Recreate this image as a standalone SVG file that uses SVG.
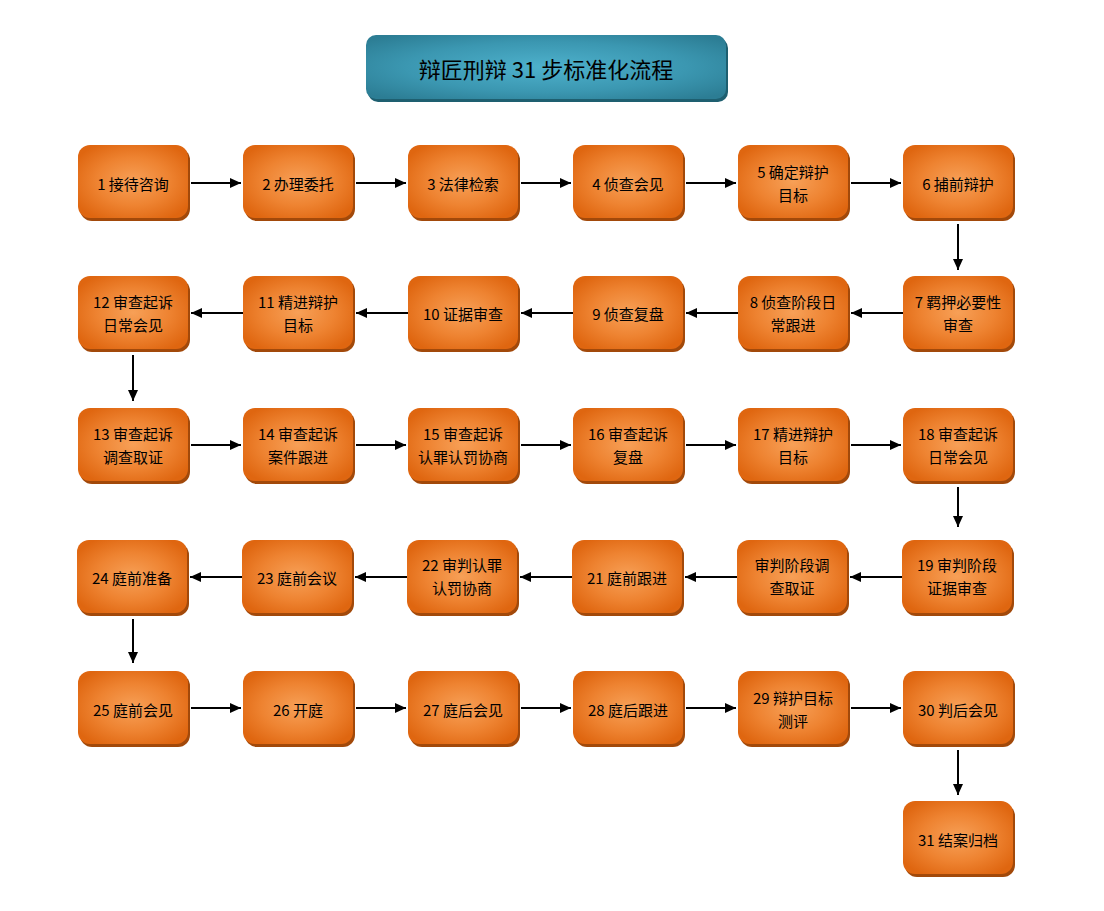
<svg xmlns="http://www.w3.org/2000/svg" width="1104" height="911" viewBox="0 0 1104 911">
<defs>
<radialGradient id="og" cx="50%" cy="50%" r="60%">
<stop offset="0" stop-color="#f7a057"/>
<stop offset="0.55" stop-color="#ee8331"/>
<stop offset="1" stop-color="#df6610"/>
</radialGradient>
<radialGradient id="tg" cx="50%" cy="50%" r="65%">
<stop offset="0" stop-color="#4eb1cc"/>
<stop offset="0.6" stop-color="#3b97b1"/>
<stop offset="1" stop-color="#2c7d94"/>
</radialGradient>
<marker id="ah" markerUnits="userSpaceOnUse" markerWidth="12" markerHeight="10" refX="11" refY="5" orient="auto">
<path d="M0,0 L11,5 L0,10 z" fill="#000"/>
</marker>
<symbol id="box" overflow="visible">
<rect x="2" y="3" width="110" height="73" rx="12" fill="#a2490a"/>
<rect x="0" y="0" width="110" height="73" rx="12" fill="url(#og)"/>
</symbol>
</defs>
<style>
text{font-family:"Noto Sans CJK SC","Liberation Sans",sans-serif;fill:#000;text-anchor:middle;dominant-baseline:central}
.n text{font-size:15px}
.t{font-size:22px}
.c line{stroke:#000;stroke-width:2;marker-end:url(#ah)}
</style>
<rect width="1104" height="911" fill="#fff"/>
<g id="title">
<rect x="368" y="38" width="360" height="64" rx="10" fill="#1e5f70"/>
<rect x="366" y="35" width="360" height="64" rx="10" fill="url(#tg)"/>
<text class="t" x="546" y="68">辩匠刑辩 31 步标准化流程</text>
</g>
<g class="c" id="connectors">
<line x1="191" y1="183" x2="241" y2="183"/>
<line x1="356" y1="183" x2="406" y2="183"/>
<line x1="521" y1="183" x2="571" y2="183"/>
<line x1="686" y1="183" x2="736" y2="183"/>
<line x1="851" y1="183" x2="901" y2="183"/>
<line x1="958" y1="224" x2="958" y2="270"/>
<line x1="903" y1="313" x2="851" y2="313"/>
<line x1="738" y1="313" x2="686" y2="313"/>
<line x1="573" y1="313" x2="521" y2="313"/>
<line x1="408" y1="313" x2="356" y2="313"/>
<line x1="243" y1="313" x2="191" y2="313"/>
<line x1="133" y1="355" x2="133" y2="401"/>
<line x1="191" y1="445" x2="241" y2="445"/>
<line x1="356" y1="445" x2="406" y2="445"/>
<line x1="521" y1="445" x2="571" y2="445"/>
<line x1="686" y1="445" x2="736" y2="445"/>
<line x1="851" y1="445" x2="901" y2="445"/>
<line x1="958" y1="487" x2="958" y2="527"/>
<line x1="902" y1="577" x2="850" y2="577"/>
<line x1="737" y1="577" x2="685" y2="577"/>
<line x1="572" y1="577" x2="520" y2="577"/>
<line x1="407" y1="577" x2="355" y2="577"/>
<line x1="242" y1="577" x2="190" y2="577"/>
<line x1="133" y1="619" x2="133" y2="663"/>
<line x1="191" y1="708" x2="241" y2="708"/>
<line x1="356" y1="708" x2="406" y2="708"/>
<line x1="521" y1="708" x2="571" y2="708"/>
<line x1="686" y1="708" x2="736" y2="708"/>
<line x1="851" y1="708" x2="901" y2="708"/>
<line x1="958" y1="750" x2="958" y2="795"/>
</g>
<g class="n">
<g id="n1"><use href="#box" x="78" y="145"/><text x="133" y="183">1 接待咨询</text></g>
<g id="n2"><use href="#box" x="243" y="145"/><text x="298" y="183">2 办理委托</text></g>
<g id="n3"><use href="#box" x="408" y="145"/><text x="463" y="183">3 法律检索</text></g>
<g id="n4"><use href="#box" x="573" y="145"/><text x="628" y="183">4 侦查会见</text></g>
<g id="n5"><use href="#box" x="738" y="145"/><text x="793" y="171">5 确定辩护</text><text x="793" y="194">目标</text></g>
<g id="n6"><use href="#box" x="903" y="145"/><text x="958" y="183">6 捕前辩护</text></g>
<g id="n7"><use href="#box" x="903" y="276"/><text x="958" y="301">7 羁押必要性</text><text x="958" y="324">审查</text></g>
<g id="n8"><use href="#box" x="738" y="276"/><text x="793" y="301">8 侦查阶段日</text><text x="793" y="324">常跟进</text></g>
<g id="n9"><use href="#box" x="573" y="276"/><text x="628" y="313">9 侦查复盘</text></g>
<g id="n10"><use href="#box" x="408" y="276"/><text x="463" y="313">10 证据审查</text></g>
<g id="n11"><use href="#box" x="243" y="276"/><text x="298" y="301">11 精进辩护</text><text x="298" y="324">目标</text></g>
<g id="n12"><use href="#box" x="78" y="276"/><text x="133" y="301">12 审查起诉</text><text x="133" y="324">日常会见</text></g>
<g id="n13"><use href="#box" x="78" y="408"/><text x="133" y="433">13 审查起诉</text><text x="133" y="456">调查取证</text></g>
<g id="n14"><use href="#box" x="243" y="408"/><text x="298" y="433">14 审查起诉</text><text x="298" y="456">案件跟进</text></g>
<g id="n15"><use href="#box" x="408" y="408"/><text x="463" y="433">15 审查起诉</text><text x="463" y="456">认罪认罚协商</text></g>
<g id="n16"><use href="#box" x="573" y="408"/><text x="628" y="433">16 审查起诉</text><text x="628" y="456">复盘</text></g>
<g id="n17"><use href="#box" x="738" y="408"/><text x="793" y="433">17 精进辩护</text><text x="793" y="456">目标</text></g>
<g id="n18"><use href="#box" x="903" y="408"/><text x="958" y="433">18 审查起诉</text><text x="958" y="456">日常会见</text></g>
<g id="n19"><use href="#box" x="902" y="540"/><text x="957" y="564">19 审判阶段</text><text x="957" y="587">证据审查</text></g>
<g id="n20"><use href="#box" x="737" y="540"/><text x="792" y="564">审判阶段调</text><text x="792" y="587">查取证</text></g>
<g id="n21"><use href="#box" x="572" y="540"/><text x="627" y="577">21 庭前跟进</text></g>
<g id="n22"><use href="#box" x="407" y="540"/><text x="462" y="564">22 审判认罪</text><text x="462" y="587">认罚协商</text></g>
<g id="n23"><use href="#box" x="242" y="540"/><text x="297" y="577">23 庭前会议</text></g>
<g id="n24"><use href="#box" x="77" y="540"/><text x="132" y="577">24 庭前准备</text></g>
<g id="n25"><use href="#box" x="78" y="671"/><text x="133" y="709">25 庭前会见</text></g>
<g id="n26"><use href="#box" x="243" y="671"/><text x="298" y="709">26 开庭</text></g>
<g id="n27"><use href="#box" x="408" y="671"/><text x="463" y="709">27 庭后会见</text></g>
<g id="n28"><use href="#box" x="573" y="671"/><text x="628" y="709">28 庭后跟进</text></g>
<g id="n29"><use href="#box" x="738" y="671"/><text x="793" y="697">29 辩护目标</text><text x="793" y="720">测评</text></g>
<g id="n30"><use href="#box" x="903" y="671"/><text x="958" y="709">30 判后会见</text></g>
<g id="n31"><use href="#box" x="903" y="801"/><text x="958" y="839">31 结案归档</text></g>
</g>
</svg>
